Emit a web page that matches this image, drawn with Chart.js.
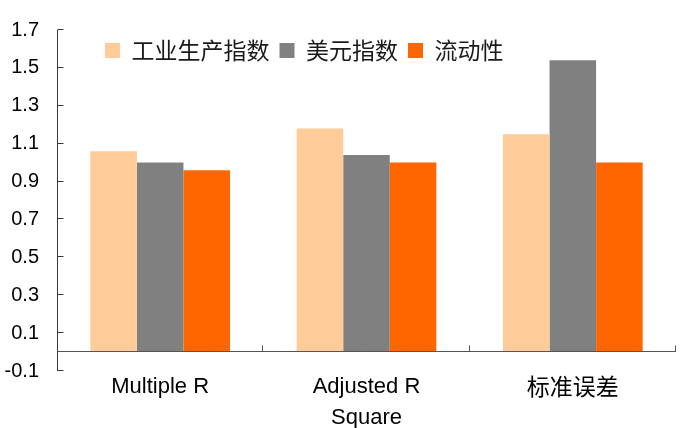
<!DOCTYPE html>
<html>
<head>
<meta charset="utf-8">
<script src="https://cdn.jsdelivr.net/npm/chart.js@4"></script>
<style>
  html, body { margin: 0; padding: 0; background: #ffffff; }
  #wrap { width: 688px; height: 428px; }
</style>
</head>
<body>
<div id="wrap"><canvas id="chart" width="688" height="428"></canvas></div>
<script>
// Regression statistics per explanatory variable
const categories = ['Multiple R', ['Adjusted R', 'Square'], '标准误差'];
const seriesNames = ['工业生产指数', '美元指数', '流动性'];
const industrialProduction = [1.06, 1.18, 1.15];
const dollarIndex = [1.00, 1.04, 1.54];
const liquidity = [0.96, 1.00, 1.00];

// Value axis range
const yMin = -0.1;
const yMax = 1.7;
const yStep = 0.2;

const seriesColors = ['#FFCC99', '#808080', '#FF6600'];

Chart.defaults.font.family = '"Liberation Sans", Arial, "Noto Sans CJK SC", sans-serif';
Chart.defaults.color = '#000000';

// Axis lines drawn the spreadsheet way: inward tick marks, category axis at zero
const axisLines = {
  id: 'axisLines',
  afterDatasetsDraw(chart) {
    const { ctx, chartArea, scales } = chart;
    const x = scales.x, y = scales.y;
    ctx.save();
    ctx.lineWidth = 1;
    // value axis
    const ax = Math.round(chartArea.left) + 0.5;
    ctx.strokeStyle = '#3a3a3a';
    ctx.beginPath();
    ctx.moveTo(ax, y.getPixelForValue(yMax));
    ctx.lineTo(ax, y.getPixelForValue(yMin));
    y.ticks.forEach(t => {
      const py = Math.round(y.getPixelForValue(t.value)) - 0.5;
      ctx.moveTo(ax, py);
      ctx.lineTo(ax + 6, py);
    });
    ctx.stroke();
    // category axis at zero
    const zy = Math.round(y.getPixelForValue(0)) - 0.5;
    ctx.strokeStyle = '#555555';
    ctx.beginPath();
    ctx.moveTo(ax, zy);
    ctx.lineTo(chartArea.right, zy);
    const half = (x.getPixelForValue(1) - x.getPixelForValue(0)) / 2;
    for (let i = 0; i < categories.length; i++) {
      const px = Math.round(x.getPixelForValue(i) + half) - 0.5;
      ctx.moveTo(px, zy);
      ctx.lineTo(px, zy - 6);
    }
    ctx.stroke();
    ctx.restore();
  }
};

// Legend sits inside the plot area without taking layout space
const floatingLegend = {
  id: 'floatingLegend',
  beforeLayout(chart) {
    const lg = chart.legend;
    if (lg && !lg._floating) {
      const fit = lg.fit.bind(lg);
      lg.fit = function () { fit(); this._fitHeight = this.height; this.height = 0; };
      lg._floating = true;
    }
  },
  afterLayout(chart) {
    const lg = chart.legend;
    if (!lg) return;
    lg.left = 95;
    lg.right = chart.width;
    lg.width = lg.right - lg.left;
    lg.top = 29;
    lg.height = lg._fitHeight || 44;
    lg.bottom = lg.top + lg.height;
  }
};

new Chart(document.getElementById('chart'), {
  type: 'bar',
  data: {
    labels: categories,
    datasets: [
      { label: seriesNames[0], data: industrialProduction, backgroundColor: seriesColors[0] },
      { label: seriesNames[1], data: dollarIndex, backgroundColor: seriesColors[1] },
      { label: seriesNames[2], data: liquidity, backgroundColor: seriesColors[2] }
    ]
  },
  plugins: [floatingLegend, axisLines],
  options: {
    responsive: false,
    devicePixelRatio: 1,
    animation: false,
    layout: { padding: { left: 0, right: 12, top: 27, bottom: 0 } },
    datasets: {
      bar: { categoryPercentage: 0.677, barPercentage: 1.0, borderWidth: 0 }
    },
    plugins: {
      tooltip: { enabled: false },
      legend: {
        position: 'top',
        align: 'start',
        labels: {
          boxWidth: 15,
          boxHeight: 15,
          padding: 10,
          color: '#1a1a1a',
          font: { size: 23, family: '"Noto Sans CJK SC", "Liberation Sans", sans-serif' }
        }
      }
    },
    scales: {
      x: {
        grid: { display: false, drawTicks: false },
        border: { display: false },
        ticks: {
          padding: 0,
          maxRotation: 0,
          autoSkip: false,
          color: '#000000',
          font: (c) => c.index === 2
            ? { size: 23, lineHeight: 1.35, family: '"Noto Sans CJK SC", "Liberation Sans", sans-serif' }
            : { size: 22, lineHeight: 1.42 }
        },
        afterFit(scale) { scale.height = 57; }
      },
      y: {
        min: yMin,
        max: yMax,
        grid: { display: false, drawTicks: false },
        border: { display: false },
        ticks: {
          stepSize: yStep,
          padding: 18,
          color: '#000000',
          font: { size: 20 },
          callback: (v) => Number(v).toFixed(1)
        },
        afterFit(scale) { scale.width = 57; }
      }
    }
  }
});
</script>
</body>
</html>
